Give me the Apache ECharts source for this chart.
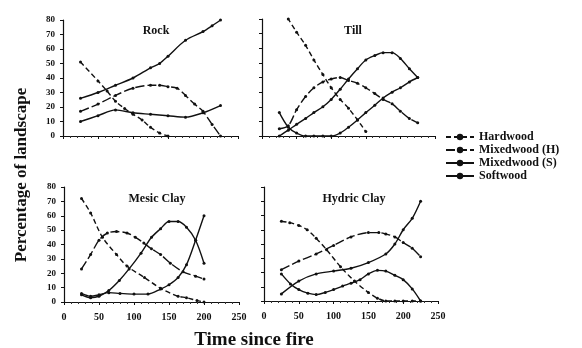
<!DOCTYPE html>
<html><head><meta charset="utf-8">
<script src="https://cdn.jsdelivr.net/npm/echarts@6/dist/echarts.min.js"></script>
<style>html,body{margin:0;padding:0;background:#fff}#c{width:582px;height:348px}</style>
</head><body><div id="c"></div>
<script>
const seriesNames = ['Hardwood', 'Mixedwood (H)', 'Mixedwood (S)', 'Softwood'];
const panelTitles = ['Rock', 'Till', 'Mesic Clay', 'Hydric Clay'];
const xTickValues = [0, 50, 100, 150, 200, 250];
const yTickValues = [0, 10, 20, 30, 40, 50, 60, 70, 80];
const yAxisTitle = 'Percentage of landscape';
const xAxisTitle = 'Time since fire';

// Rock
const rockHardwood = [[25,51],[50,38],[63,31],[75,24],[88,19],[100,15],[113,11],[125,6],[138,2],[150,0]];
const rockMixedH = [[25,17],[50,22],[75,28],[100,33],[125,35],[138,35],[150,34],[163,33],[175,28],[188,22],[200,17],[213,8],[225,0]];
const rockMixedS = [[25,10],[50,14],[75,18],[100,16],[125,15],[150,14],[175,13],[200,16],[225,21]];
const rockSoftwood = [[25,26],[50,30],[75,35],[100,40],[125,47],[138,50],[150,55],[175,66],[200,72],[213,76],[225,80]];
// Till
const tillHardwood = [[25,90],[38,80],[50,71],[63,62],[75,52],[88,42],[100,33],[113,25],[125,19],[138,11],[150,3]];
const tillMixedH = [[25,5],[38,7],[50,18],[63,27],[75,33],[88,37],[100,39],[113,40],[125,38],[138,36],[150,33],[163,29],[175,25],[188,22],[200,17],[213,12],[225,9]];
const tillMixedS = [[25,0],[38,4],[50,8],[63,12],[75,16],[88,20],[100,25],[113,32],[125,39],[138,46],[150,52],[163,55],[175,57],[188,57],[200,53],[213,46],[225,40]];
const tillSoftwood = [[25,16],[38,6],[50,2],[63,0],[75,0],[88,0],[100,0],[113,2],[125,6],[138,11],[150,16],[163,21],[175,26],[188,30],[200,33],[213,37],[225,40]];
// Mesic Clay
const mesicHardwood = [[25,72],[38,62],[55,45],[75,33],[90,25],[115,17],[138,9.5],[163,4],[175,3],[190,1],[200,0]];
const mesicMixedH = [[25,23],[38,33],[50,43],[62,48],[75,49],[90,48],[102,45],[114,41],[125,37],[138,33],[152,27],[170,21],[188,18],[200,16]];
const mesicMixedS = [[25,5],[38,3],[50,4],[64,8],[79,15],[93,23],[110,34],[125,45],[138,51],[150,56],[163,56],[175,52],[188,43],[200,27]];
const mesicSoftwood = [[25,6],[38,4],[50,5],[64,6.5],[80,6],[100,5.5],[120,5.5],[138,9],[150,12],[163,17],[175,26],[188,43],[200,60]];
// Hydric Clay
const hydricHardwood = [[25,56],[37,55],[50,53],[62,50],[75,44],[90,36],[110,24],[130,14],[150,6],[163,2],[175,0],[188,0],[200,0],[213,0],[225,0]];
const hydricMixedH = [[25,22],[50,28],[75,33],[100,39],[125,45],[150,48],[165,48],[175,47],[188,45],[200,41],[213,37],[225,31]];
const hydricMixedS = [[25,19],[38,12],[50,8],[63,5.5],[75,4.5],[88,6],[100,8],[113,10.5],[125,12.5],[138,15],[150,19],[163,21.5],[175,21],[188,18],[200,15],[213,8.5],[225,0]];
const hydricSoftwood = [[25,5],[50,14],[75,19],[100,21],[125,23],[150,27],[175,33],[188,40],[200,50],[213,58],[225,70]];

const panelData = [
  [rockHardwood, rockMixedH, rockMixedS, rockSoftwood],
  [tillHardwood, tillMixedH, tillMixedS, tillSoftwood],
  [mesicHardwood, mesicMixedH, mesicMixedS, mesicSoftwood],
  [hydricHardwood, hydricMixedH, hydricMixedS, hydricSoftwood]
];

const FONT = 'Liberation Serif';
const grids = [
  {left: 63, top: 20, width: 175, height: 116},
  {left: 262, top: 19, width: 173, height: 117},
  {left: 64, top: 187, width: 175, height: 115},
  {left: 264, top: 187, width: 174, height: 114}
];
const titlePos = [[151, 20], [348, 20], [152, 188], [349, 188]];
const dashes = [[5, 3], [9, 3], 'solid', 'solid'];

const xAxes = [], yAxes = [], series = [], titles = [];
grids.forEach((g, i) => {
  const bottom = i >= 2, left = i % 2 === 0;
  xAxes.push({
    type: 'value', gridIndex: i, min: xTickValues[0], max: xTickValues[xTickValues.length - 1], interval: 50,
    axisLine: {lineStyle: {color: '#111', width: 1.2}},
    axisTick: {show: true, length: 3, lineStyle: {color: '#111'}},
    minorTick: {show: true, splitNumber: 5, length: 2, lineStyle: {color: '#333'}},
    splitLine: {show: false},
    axisLabel: {show: bottom, color: '#111', fontFamily: FONT, fontWeight: 'bold', fontSize: 10, margin: 10}
  });
  yAxes.push({
    type: 'value', gridIndex: i, min: yTickValues[0], max: yTickValues[yTickValues.length - 1], interval: 10,
    axisLine: {show: true, lineStyle: {color: '#111', width: 1.2}},
    axisTick: {show: true, length: 3, lineStyle: {color: '#111'}},
    splitLine: {show: false},
    axisLabel: {show: left, color: '#111', fontFamily: FONT, fontWeight: 'bold', fontSize: 9, margin: 8}
  });
  titles.push({
    text: panelTitles[i], left: titlePos[i][0], top: titlePos[i][1], textAlign: 'center',
    textStyle: {fontFamily: FONT, fontWeight: 'bold', fontSize: 12, color: '#111'}
  });
  panelData[i].forEach((d, k) => {
    series.push({
      name: seriesNames[k], type: 'line', xAxisIndex: i, yAxisIndex: i, data: d,
      smooth: 0.3, clip: true, symbol: 'circle', symbolSize: 3,
      itemStyle: {color: '#111'},
      lineStyle: {color: '#111', width: 1.4, type: dashes[k]},
      animation: false
    });
  });
});

titles.push({
  text: xAxisTitle, left: 249, top: 326, textAlign: 'center',
  textStyle: {fontFamily: FONT, fontWeight: 'bold', fontSize: 19, color: '#111'}
});

const chart = echarts.init(document.getElementById('c'), null, {renderer: 'canvas'});
chart.setOption({
  backgroundColor: '#fff',
  animation: false,
  title: titles,
  grid: grids,
  xAxis: xAxes,
  yAxis: yAxes,
  legend: {
    data: seriesNames, orient: 'vertical', left: 445, top: 131, itemWidth: 28, itemHeight: 8, itemGap: 1,
    padding: 0,
    textStyle: {fontFamily: FONT, fontWeight: 'bold', fontSize: 12, lineHeight: 11, color: '#111'},
    selectedMode: false
  },
  graphic: [{
    type: 'text', x: 22, y: 175, rotation: Math.PI / 2,
    style: {text: yAxisTitle, font: 'bold 17px "Liberation Serif"', fill: '#111', textAlign: 'center', textVerticalAlign: 'middle'}
  }],
  series: series
});
</script></body></html>
